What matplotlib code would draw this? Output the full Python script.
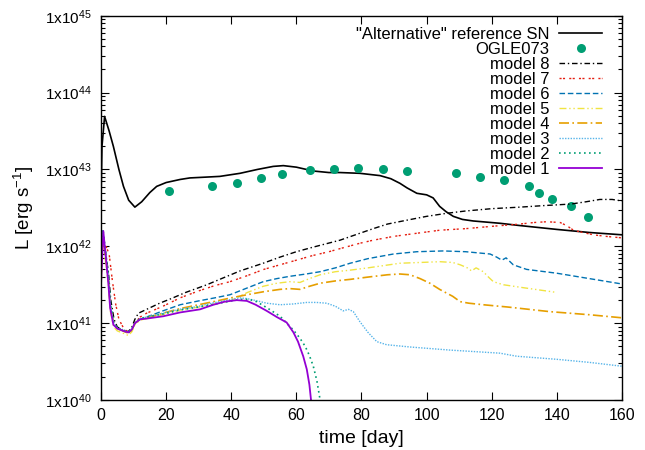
import matplotlib
matplotlib.use("Agg")
import matplotlib.pyplot as plt
from matplotlib.ticker import FixedLocator, LogLocator, NullFormatter
import numpy as np

plt.rcParams['font.family'] = ['Liberation Sans', 'DejaVu Sans']
plt.rcParams['mathtext.fontset'] = 'custom'
plt.rcParams['mathtext.rm'] = 'Liberation Sans'
plt.rcParams['mathtext.it'] = 'Liberation Sans'

# "Alternative" reference SN (log10 L)
ref_day = [0, 0.3, 1.1, 2.5, 3.8, 5.5, 6.9, 8.5, 10.4, 12.5, 15, 17.1, 20, 24.3, 27.3, 32,
           36.5, 42.7, 48, 52.9, 56, 60, 65.2, 70, 73.4, 79.5, 85.7, 89, 91.8, 94, 97, 100,
           102, 104, 106, 108.2, 111, 114.3, 122.5, 128.7, 140, 150, 160]
ref_logL = [42.6, 43.3, 43.69, 43.5, 43.30, 43.0, 42.78, 42.6, 42.51, 42.58, 42.70, 42.78, 42.83,
            42.87, 42.89, 42.90, 42.91, 42.95, 43.0, 43.04, 43.05, 43.03, 42.98, 42.96, 42.96,
            42.95, 42.92, 42.88, 42.82, 42.76, 42.69, 42.67, 42.63, 42.52, 42.45, 42.39, 42.35,
            42.33, 42.30, 42.27, 42.22, 42.18, 42.15]

# OGLE073 observations
obs_day = [20.8, 34.1, 41.7, 49.0, 55.6, 64.1, 71.5, 79.0, 86.5, 94.1, 108.9, 116.4, 123.9,
           131.4, 134.6, 138.4, 144.3, 149.6]
obs_logL = [42.72, 42.79, 42.82, 42.89, 42.94, 42.99, 43.01, 43.02, 43.01, 42.98, 42.96, 42.90,
            42.86, 42.79, 42.70, 42.61, 42.53, 42.38]

m8_day = [0, 0.5, 2.3, 3, 4, 5, 6.8, 8.4, 9.5, 10.4, 11.5, 14, 18, 21, 26, 32.5, 37, 42.7, 49.8,
          55, 60, 65.2, 73.4, 79.5, 83.6, 88, 93.9, 100, 106.2, 112, 120, 128.7, 136, 144.3,
          149, 153.2, 157, 160]
m8_logL = [41.8, 42.2, 41.65, 41.3, 41.05, 40.95, 40.91, 40.89, 40.95, 41.05, 41.13, 41.18, 41.26,
           41.31, 41.40, 41.50, 41.58, 41.68, 41.78, 41.86, 41.93, 41.99, 42.08, 42.17, 42.23,
           42.29, 42.34, 42.39, 42.43, 42.46, 42.49, 42.51, 42.53, 42.55, 42.58, 42.61, 42.61, 42.59]

m7_day = [0, 0.6, 2.5, 3.5, 4.5, 5.5, 7, 8.4, 9.5, 10.4, 12, 14, 19, 24.3, 30, 35, 39.6, 45, 50,
          55, 60, 65, 70, 73.4, 79.5, 83.6, 90, 97, 104.1, 112, 120, 128.7, 133, 136.9, 141, 143,
          145.1, 148, 151.2, 155, 160]
m7_logL = [41.7, 42.1, 41.9, 41.55, 41.25, 41.05, 40.93, 40.88, 40.92, 41.0, 41.08, 41.13, 41.22,
           41.33, 41.42, 41.49, 41.54, 41.62, 41.70, 41.76, 41.82, 41.88, 41.93, 41.97, 42.04,
           42.08, 42.13, 42.17, 42.21, 42.23, 42.26, 42.29, 42.31, 42.32, 42.31, 42.27, 42.21,
           42.18, 42.15, 42.13, 42.11]

m6_day = [0, 0.5, 2.3, 2.9, 3.9, 5, 6.8, 8.4, 9.5, 10.4, 12, 14, 19, 24.3, 30, 35, 39.6, 45, 49.8,
          54, 58, 63, 67.3, 72, 76.5, 82, 89.8, 97, 105.1, 112, 119.5, 121.5, 123.1, 124.4, 126.6,
          130.7, 140, 150, 160]
m6_logL = [41.6, 42.2, 41.55, 41.2, 41.0, 40.93, 40.9, 40.87, 40.91, 41.0, 41.05, 41.08, 41.16,
           41.24, 41.29, 41.33, 41.37, 41.46, 41.54, 41.58, 41.61, 41.64, 41.67, 41.72, 41.78,
           41.84, 41.90, 41.93, 41.94, 41.93, 41.90, 41.86, 41.82, 41.85, 41.76, 41.70, 41.65,
           41.58, 41.51]

m5_day = [0, 0.5, 2.3, 2.9, 3.9, 5, 6.8, 8.4, 9.5, 10.4, 12, 14, 19, 24.3, 30, 35, 39.6, 45, 49.8,
          54, 58, 61.1, 64, 67.3, 72, 76.5, 82, 91.8, 98, 104.1, 108, 110.3, 112.5, 113.8, 115.2,
          117.4, 119, 120.5, 123.6, 130, 140]
m5_logL = [41.4, 42.1, 41.5, 41.15, 40.95, 40.9, 40.87, 40.84, 40.89, 40.98, 41.04, 41.06, 41.11,
           41.17, 41.21, 41.25, 41.29, 41.40, 41.48, 41.52, 41.54, 41.53, 41.58, 41.63, 41.67,
           41.69, 41.72, 41.78, 41.79, 41.80, 41.79, 41.76, 41.72, 41.68, 41.72, 41.67, 41.60,
           41.54, 41.50, 41.46, 41.40]

m4_day = [0, 0.5, 2.3, 2.9, 3.9, 5, 6.8, 8.4, 9.5, 10.4, 12, 14, 19, 24.3, 30, 34.5, 40, 44.8, 50,
          55, 58, 61.1, 64, 67.3, 72, 76.5, 82, 88, 91.8, 94.9, 98, 101, 104, 106.2, 108, 110.3,
          113, 117.4, 125, 137.9, 150, 160]
m4_logL = [41.5, 42.15, 41.55, 41.2, 41.0, 40.93, 40.9, 40.87, 40.91, 41.0, 41.05, 41.07, 41.13,
           41.19, 41.24, 41.28, 41.33, 41.37, 41.41, 41.44, 41.45, 41.44, 41.48, 41.52, 41.55,
           41.57, 41.60, 41.63, 41.64, 41.63, 41.58, 41.52, 41.44, 41.39, 41.35, 41.28, 41.26,
           41.24, 41.21, 41.15, 41.11, 41.07]

m3_day = [0, 0.6, 2.3, 2.9, 3.9, 5, 6.8, 8.4, 9.5, 10.4, 12, 14, 19, 24, 30, 35, 40, 42.7, 44.8,
          48, 50.9, 55, 59, 63.2, 66.2, 69.3, 72, 74.4, 76, 77.5, 79.5, 82, 84.7, 87.7, 95,
          107.2, 122.5, 127.7, 140, 150, 160]
m3_logL = [41.7, 42.2, 41.6, 41.25, 41.0, 40.94, 40.91, 40.88, 40.93, 41.0, 41.06, 41.08, 41.13,
           41.18, 41.22, 41.27, 41.31, 41.33, 41.32, 41.29, 41.26, 41.24, 41.25, 41.27, 41.27,
           41.26, 41.22, 41.16, 41.18, 41.15, 41.02, 40.88, 40.76, 40.72, 40.69, 40.65, 40.61,
           40.57, 40.53, 40.49, 40.44]

m2_day = [0, 0.6, 2.3, 2.9, 3.9, 5, 6.8, 8.4, 9.5, 10.4, 12, 14, 19, 24, 30, 35, 40, 43, 45.5,
          47.8, 51, 55, 59.1, 61, 62.7, 64, 65.2, 66.3, 67.3]
m2_logL = [41.6, 42.22, 41.6, 41.25, 41.0, 40.94, 40.91, 40.89, 40.93, 41.0, 41.06, 41.08, 41.12,
           41.17, 41.21, 41.25, 41.29, 41.31, 41.31, 41.28, 41.20, 41.09, 40.91, 40.81, 40.70,
           40.58, 40.44, 40.25, 40.0]

m1_day = [0, 0.7, 2.25, 2.8, 3.8, 5, 6.8, 8.4, 9.5, 10.4, 12, 14, 19.1, 24.3, 30.4, 34.5, 38,
          41.7, 44.8, 47.5, 50.9, 54, 57, 59.1, 60.5, 62.1, 63.2, 64.0, 64.5]
m1_logL = [41.5, 42.2, 41.52, 41.2, 40.98, 40.93, 40.90, 40.88, 40.92, 41.0, 41.05, 41.06, 41.09,
           41.14, 41.18, 41.24, 41.28, 41.30, 41.29, 41.24, 41.16, 41.08, 41.01, 40.88, 40.76,
           40.57, 40.40, 40.20, 40.0]

models = [
    ("model 8", m8_day, m8_logL, "#000000", (0, (4, 2, 1, 2)), 1.0),
    ("model 7", m7_day, m7_logL, "#e51e10", (0, (1.5, 1, 1.5, 3)), 1.0),
    ("model 6", m6_day, m6_logL, "#0072b2", (0, (4, 2)), 1.0),
    ("model 5", m5_day, m5_logL, "#f0e442", (0, (5, 2, 1, 2, 1, 2)), 1.0),
    ("model 4", m4_day, m4_logL, "#e69f00", (0, (6, 2, 1, 2)), 1.2),
    ("model 3", m3_day, m3_logL, "#56b4e9", (0, (1, 1)), 1.0),
    ("model 2", m2_day, m2_logL, "#009e73", (0, (1, 2)), 1.2),
    ("model 1", m1_day, m1_logL, "#9400d3", "-", 1.3),
]

fig = plt.figure(figsize=(6.45, 4.5), dpi=100)
ax = fig.add_axes([0.1566, 0.111, 0.8077, 0.854])

ax.plot(ref_day, 10 ** np.array(ref_logL), color="black", lw=1.2,
        label='"Alternative" reference SN')
ax.plot(obs_day, 10 ** np.array(obs_logL), "o", color="#009e73", ms=6.5, mec="none",
        label="OGLE073")
for name, d, l, c, ls, lw in models:
    ax.plot(d, 10 ** np.array(l), color=c, ls=ls, lw=lw, label=name)

ax.set_yscale("log")
ax.set_xlim(0, 160)
ax.set_ylim(1e40, 1e45)
ax.xaxis.set_major_locator(FixedLocator([0, 20, 40, 60, 80, 100, 120, 140, 160]))
ax.yaxis.set_major_locator(FixedLocator([1e40, 1e41, 1e42, 1e43, 1e44, 1e45]))
ax.yaxis.set_minor_locator(LogLocator(base=10, subs=np.arange(2, 10), numticks=20))
ax.yaxis.set_minor_formatter(NullFormatter())
ax.set_yticklabels([r"1x10$^{%d}$" % e for e in range(40, 46)])
ax.tick_params(which="both", direction="in", top=True, right=True, labelsize=11.5)
ax.tick_params(axis="y", labelsize=11)
ax.tick_params(axis="x", pad=6)
ax.tick_params(axis="y", pad=7)
ax.tick_params(which="major", length=6, width=0.8)
ax.tick_params(which="minor", length=3, width=0.8)
for s in ax.spines.values():
    s.set_linewidth(1.0)

ax.set_xlabel("time [day]", fontsize=14, labelpad=5)
ax.set_ylabel(r"L [erg s$^{-1}$]", fontsize=13.5, labelpad=6)

ax.legend(loc="upper right", bbox_to_anchor=(0.969, 0.979), frameon=False,
          markerfirst=False, fontsize=12, handlelength=2.6, labelspacing=0.0,
          borderaxespad=0, handletextpad=0.6, borderpad=0.2)

fig.savefig("out.png", dpi=100)
